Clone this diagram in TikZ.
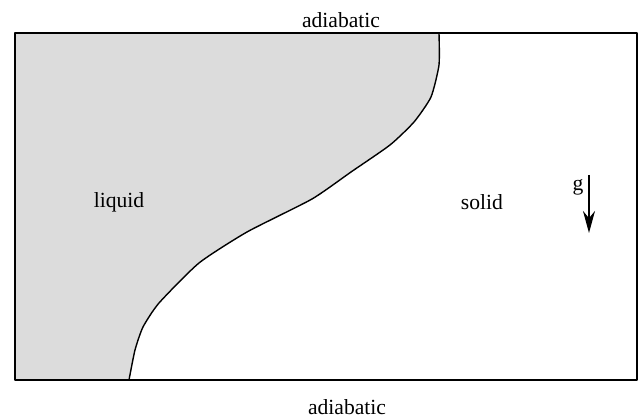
\documentclass[tikz,border=0pt]{standalone}
\usepackage{fontspec}
\setmainfont{Liberation Serif}
\usetikzlibrary{arrows.meta}
\definecolor{liquidgray}{HTML}{DCDCDC}
\def\meltfront{(439,33) (439,65) (431,97) (414,122) (390,145) (351,172) (312,199) (247,232) (199,263) (159,303) (143,327) (135,350) (129,380)}

\begin{document}
\begin{tikzpicture}[x=0.5pt, y=-0.5pt, >={Stealth[length=11pt, width=6pt]}, line join=round,
  every node/.style={font=\fontsize{10.8}{13}\selectfont}]
\useasboundingbox (0,0) rectangle (639,416);
% liquid region
\fill[liquidgray] (15,380) -- (15,33) -- plot[smooth, tension=0.35] coordinates {\meltfront} -- cycle;
\draw[line width=0.7pt] plot[smooth, tension=0.35] coordinates {\meltfront};
% cavity
\draw[line width=1.1pt] (15,33) rectangle (637,380);
\node (top) at (341,20) {adiabatic};
\node (bottom) at (347,407) {adiabatic};
\node (liquid) at (119,202) {liquid};
\node (solid) at (482,202) {solid};
% gravity
\coordinate (gtop) at (589,175);
\coordinate (gbot) at (589,233);
\draw[->, line width=0.9pt] (gtop) -- (gbot);
\node (g) at (578,187) {g};
\end{tikzpicture}
\end{document}
